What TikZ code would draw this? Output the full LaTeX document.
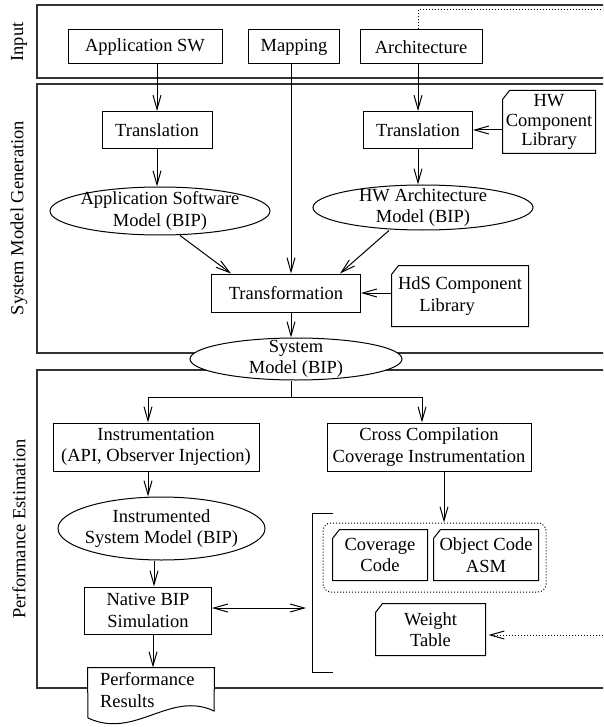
\documentclass[tikz,border=0pt]{standalone}
\usepackage{fontspec}
\setmainfont{Liberation Serif}
\usetikzlibrary{arrows.meta,shapes.geometric,calc}

% outline of a document symbol with a cut top-left corner
\newcommand{\docshape}[1]{%
  \draw ([xshift=7pt]#1.north west) -- (#1.north east) -- (#1.south east)
        -- (#1.south west) -- ([yshift=-9pt]#1.north west) -- cycle;}

\begin{document}
\begin{tikzpicture}[x=1pt,y=-1pt,line width=1pt,
  every node/.style={font=\fontsize{18.5}{21.5}\selectfont, inner sep=0pt},
  box/.style={draw, fill=white, align=center},
  oval/.style={draw, fill=white, ellipse},
  docbox/.style={align=center},
  panel/.style={draw=black!80, line width=1.2pt},
  arr/.style={-{Straight Barb[length=14pt,width=8pt]}},
  darr/.style={{Straight Barb[length=14pt,width=8pt]}-{Straight Barb[length=14pt,width=8pt]}},
  side/.style={rotate=90},
]
\useasboundingbox (0,0) rectangle (603,727);
\clip (0,0) rectangle (603,727);

% stage panels, open to the right
\draw[panel] (37,5) rectangle (620,78);
\draw[panel] (37,84) rectangle (620,353);
\draw[panel] (37,370) rectangle (620,688);

\node[side] (lin) at (19,42) {Input};
\node[side] (lsmg) at (19,218) {System Model Generation};
\node[side] (lpe) at (19,529) {Performance Estimation};

% inputs
\node[box, minimum width=154, minimum height=34] (app) at (145,47) {Application SW};
\node[box, minimum width=91, minimum height=34] (map) at (294,47) {Mapping};
\node[box, minimum width=122, minimum height=34] (arch) at (421,47) {Architecture};

% model generation
\node[box, minimum width=110, minimum height=37] (tl) at (157,130) {Translation};
\node[box, minimum width=109, minimum height=37] (tr) at (418,130) {Translation};
\node[docbox, minimum width=92, minimum height=62, font=\fontsize{18.5}{19.5}\selectfont] (hwlib) at (549,122) {HW\\Component\\Library};
\docshape{hwlib}

\node[oval, minimum width=220, minimum height=48] (appm) at (160,211) {};
\node[align=center] (appmt) at (appm) {Application Software\\Model (BIP)};
\node[oval, minimum width=220, minimum height=45] (hwm) at (423,207.5) {};
\node[align=center] (hwmt) at (hwm) {HW Architecture\\Model (BIP)};

\node[box, minimum width=149, minimum height=38] (trans) at (286,293) {Transformation};
\node[docbox, minimum width=136, minimum height=60] (hds) at (460,296) {HdS Component\\Library\hspace*{26pt}};
\docshape{hds}

\node[oval, minimum width=212, minimum height=42] (sys) at (296,359) {};
\node[align=center] (syst) at (sys) {System\\Model (BIP)};

% performance estimation
\node[box, minimum width=206, minimum height=48] (instr) at (156,447) {Instrumentation\\(API, Observer Injection)};
\node[box, minimum width=204, minimum height=48] (cross) at (429,447) {Cross Compilation\\Coverage Instrumentation};

\node[oval, minimum width=207, minimum height=63] (iesm) at (161.5,528.5) {};
\node[align=center] (iesmt) at (iesm) {Instrumented\\System Model (BIP)};

\node[box, minimum width=127, minimum height=47] (native) at (148,610.5) {Native BIP\\Simulation};

\node[draw, dotted, rounded corners=8pt, minimum width=223, minimum height=69] (grp) at (434.5,557.5) {};
\node[docbox, minimum width=94, minimum height=50] (ccode) at (380,555) {Coverage\\Code};
\docshape{ccode}
\node[docbox, minimum width=104, minimum height=50] (ocode) at (486,555) {Object Code\\ASM};
\docshape{ocode}
\node[docbox, minimum width=109, minimum height=51] (weight) at (430.5,629.5) {Weight\\Table};
\docshape{weight}

\node[fill=white, align=left, text width=102, minimum width=126, minimum height=44] (perf) at (151,690) {Performance\\Results};
\draw (perf.north west) -- (perf.north east) -- (214,711)
  .. controls (170,690) and (135,740) .. (88,718) -- cycle;

% bracket around the target artefacts
\coordinate (brtop) at (333,513);
\coordinate (brbot) at (333,672);
\draw (brtop) -- (312,513) -- (312,672) -- (brbot);
\coordinate (brin) at (306,608);

% external feedback (dotted)
\coordinate (dtop) at (603,10);
\coordinate (wsrc) at (603,635);
\draw[dotted] ([xshift=-3pt]arch.north) |- (dtop);
\draw[arr, dotted, shorten >=3pt] (wsrc) -- (wsrc -| weight.east);

% flow
\draw[arr] (tl.north |- app.south) -- (tl.north);
\draw[arr] ([xshift=-3pt]map.south) -- ([xshift=-3pt]map.south |- trans.north);
\draw[arr] (tr.north |- arch.south) -- (tr.north);
\draw[arr] (hwlib.west |- tr.east) -- (tr.east);
\draw[arr] (tl.south) -- (tl.south |- appm.north);
\draw[arr] (tr.south) -- (tr.south |- hwm.north);
\draw[arr] ([xshift=20pt]appm.south) -- ([xshift=20pt]trans.north west);
\draw[arr] ([xshift=-34pt]hwm.south) -- ([xshift=-21pt]trans.north east);
\draw[arr] (hds.west |- trans.east) -- (trans.east);
\draw[arr] ([xshift=5pt]trans.south) -- ([xshift=5pt]trans.south |- sys.north);

\draw ([xshift=-5pt]sys.south) -- ++(0,17) coordinate (fork);
\draw[arr] (fork) -| ([xshift=-8pt]instr.north);
\draw[arr] (fork) -| ([xshift=-7pt]cross.north);
\draw[arr] ([xshift=-8pt]instr.south) -- ([xshift=-8pt]instr.south |- iesm.north);
\draw[arr] ([xshift=6pt]native.north |- iesm.south) -- ([xshift=6pt]native.north);
\draw[darr] (native.east |- brin) -- (brin);
\draw[arr] ([xshift=15pt]cross.south) -- ([xshift=15pt]cross.south |- grp.north);
\draw[arr] ([xshift=5pt]native.south) -- ([xshift=5pt]native.south |- perf.north);
\end{tikzpicture}
\end{document}
